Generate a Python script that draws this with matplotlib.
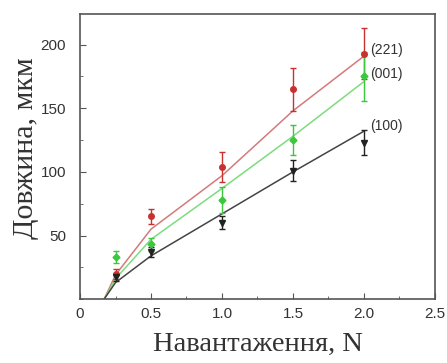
import matplotlib
matplotlib.use("Agg")
import matplotlib.pyplot as plt
from matplotlib.ticker import MultipleLocator

# measured points (load, N) and crack length (um)
loads = [0.25, 0.5, 1.0, 1.5, 2.0]
len_221 = [20, 65, 104, 165, 193]
err_221 = [4, 6, 12, 17, 20]
len_001 = [33, 43, 78, 125, 175]
err_001 = [5, 5, 10, 12, 19]
len_100 = [17, 37, 60, 101, 123]
err_100 = [3, 4, 5, 8, 10]

# fitted curves
fit_x = [0.17, 0.25, 0.5, 1.0, 1.5, 2.0]
fit_221 = [0, 19, 55, 97, 148, 191]
fit_001 = [0, 16, 47, 87, 128, 171]
fit_100 = [0, 13, 34, 67, 100, 132]

labels = ["(221)", "(001)", "(100)"]
label_y = [196, 177, 136]

fig = plt.figure(figsize=(4.47, 3.63), dpi=100)
ax = fig.add_axes([0.179, 0.176, 0.794, 0.785])

# lines first, points on top
ax.plot(fit_x, fit_221, color="#d47a7a", lw=1.1)
ax.plot(fit_x, fit_001, color="#7ddc7d", lw=1.1)
ax.plot(fit_x, fit_100, color="#444444", lw=1.1)

ax.errorbar(loads, len_221, yerr=err_221, fmt="o", color="#c8322e", ms=4,
            elinewidth=1, capsize=2.5)
ax.errorbar(loads, len_001, yerr=err_001, fmt="D", color="#3cc83c", ms=3.5,
            elinewidth=1, capsize=2.5)
ax.errorbar(loads, len_100, yerr=err_100, fmt="v", color="#222222", ms=4.5,
            elinewidth=1, capsize=2.5)

for lab, yy in zip(labels, label_y):
    ax.text(2.04, yy, lab, fontsize=10, family="Liberation Sans", color="#333333",
            va="center", ha="left")

ax.set_xlim(0, 2.5)
ax.set_ylim(0, 224)
ax.xaxis.set_major_locator(MultipleLocator(0.5))
ax.xaxis.set_minor_locator(MultipleLocator(0.25))
ax.yaxis.set_major_locator(MultipleLocator(50))
ax.yaxis.set_minor_locator(MultipleLocator(25))
ax.set_xticks([0, 0.5, 1.0, 1.5, 2.0, 2.5])
ax.set_xticklabels(["0", "0.5", "1.0", "1.5", "2.0", "2.5"])
ax.set_yticks([50, 100, 150, 200])
ax.tick_params(which="both", direction="in", colors="#555555", labelcolor="#333333",
               labelsize=11)
ax.tick_params(which="major", length=4)
ax.tick_params(which="minor", length=2)
ax.tick_params(axis="x", pad=6)
ax.tick_params(axis="y", pad=10)
for lbl in ax.get_xticklabels() + ax.get_yticklabels():
    lbl.set_family("Liberation Sans")
for sp in ax.spines.values():
    sp.set_color("#555555")
    sp.set_linewidth(1.2)

ax.set_xlabel("Навантаження, N", family="Liberation Serif", fontsize=20.5, color="#333333")
ax.set_ylabel("Довжина, мкм", family="Liberation Serif", fontsize=21.5, color="#333333")
ax.xaxis.set_label_coords(0.5, -0.115)
ax.yaxis.set_label_coords(-0.115, 0.53)

fig.savefig("out.png", dpi=100)
